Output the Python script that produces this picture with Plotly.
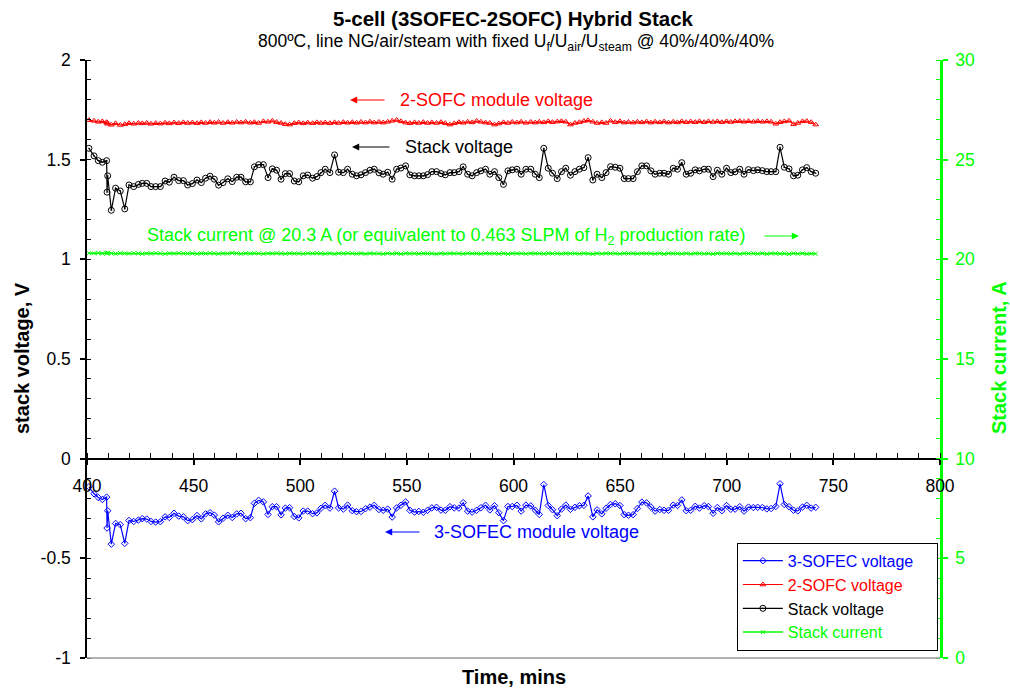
import plotly.graph_objects as go

# ---------------- data ----------------
time_min = [
    400.9, 403.3, 405.3, 407.2, 409.2, 409.4, 409.7, 411.4, 413.4, 415.6,
    417.7, 419.7, 421.9, 424.1, 425.9, 428.0, 430.0, 432.2, 434.4, 436.6,
    438.6, 440.8, 443.0, 445.2, 447.2, 449.4, 451.6, 453.6, 455.6, 457.7,
    459.7, 461.7, 463.8, 466.0, 468.1, 470.2, 472.2, 474.4, 476.6, 478.5,
    480.5, 482.7, 484.9, 486.9, 488.9, 491.0, 493.0, 495.0, 497.2, 499.3,
    501.4, 503.5, 505.8, 507.8, 509.7, 511.7, 513.9, 516.1, 518.0, 520.2,
    522.2, 524.4, 526.4, 528.5, 530.6, 532.7, 534.7, 536.9, 538.9, 541.0,
    543.1, 545.2, 547.2, 549.4, 551.4, 553.6, 555.6, 557.7, 559.7, 561.7,
    563.9, 566.0, 568.0, 570.2, 572.2, 574.4, 576.4, 578.5, 580.6, 582.7,
    584.7, 586.9, 588.9, 591.1, 593.1, 595.3, 597.4, 599.4, 601.6, 603.6,
    605.8, 608.1, 610.2, 612.1, 614.2, 616.3, 618.3, 620.5, 622.5, 624.5,
    626.7, 628.8, 630.9, 633.0, 635.0, 637.2, 639.2, 641.4, 643.4, 645.5,
    647.7, 649.9, 651.9, 653.9, 656.1, 658.1, 660.2, 662.4, 664.4, 666.4,
    668.6, 670.6, 672.7, 674.9, 676.9, 678.9, 681.0, 683.1, 685.2, 687.2,
    689.4, 691.4, 693.6, 695.6, 697.7, 699.9, 701.9, 703.9, 706.1, 708.1,
    710.2, 712.5, 714.5, 716.7, 718.8, 720.8, 723.0, 725.0, 727.0, 729.2,
    731.3, 733.3, 735.5, 737.5, 739.6, 741.7,
]

stack_voltage = [
    1.557, 1.519, 1.495, 1.487, 1.495, 1.337, 1.419, 1.246, 1.357, 1.343,
    1.253, 1.373, 1.365, 1.376, 1.381, 1.381, 1.365, 1.365, 1.365, 1.393,
    1.387, 1.412, 1.395, 1.395, 1.373, 1.380, 1.398, 1.385, 1.407, 1.417,
    1.402, 1.372, 1.385, 1.404, 1.390, 1.412, 1.412, 1.389, 1.389, 1.464,
    1.475, 1.475, 1.410, 1.454, 1.447, 1.402, 1.430, 1.430, 1.393, 1.389,
    1.419, 1.423, 1.407, 1.415, 1.435, 1.452, 1.435, 1.524, 1.437, 1.435,
    1.452, 1.427, 1.419, 1.424, 1.435, 1.447, 1.452, 1.434, 1.427, 1.437,
    1.402, 1.452, 1.458, 1.469, 1.424, 1.419, 1.419, 1.419, 1.425, 1.440,
    1.440, 1.430, 1.424, 1.435, 1.435, 1.440, 1.464, 1.427, 1.419, 1.435,
    1.444, 1.452, 1.427, 1.440, 1.410, 1.376, 1.444, 1.449, 1.452, 1.427,
    1.452, 1.452, 1.427, 1.410, 1.557, 1.457, 1.432, 1.405, 1.440, 1.457,
    1.422, 1.440, 1.452, 1.460, 1.510, 1.398, 1.427, 1.410, 1.435, 1.465,
    1.462, 1.457, 1.405, 1.405, 1.405, 1.440, 1.469, 1.469, 1.444, 1.427,
    1.432, 1.432, 1.427, 1.457, 1.452, 1.485, 1.427, 1.432, 1.449, 1.444,
    1.452, 1.452, 1.415, 1.447, 1.427, 1.457, 1.435, 1.439, 1.452, 1.427,
    1.450, 1.445, 1.449, 1.445, 1.440, 1.440, 1.440, 1.562, 1.462, 1.454,
    1.419, 1.422, 1.449, 1.460, 1.440, 1.432,
]

sofc_voltage = [
    1.698, 1.695, 1.690, 1.692, 1.688, 1.685, 1.680, 1.675, 1.682, 1.674,
    1.678, 1.683, 1.680, 1.684, 1.682, 1.684, 1.680, 1.683, 1.681, 1.685,
    1.682, 1.686, 1.683, 1.687, 1.684, 1.686, 1.683, 1.687, 1.684, 1.688,
    1.685, 1.689, 1.684, 1.688, 1.685, 1.689, 1.686, 1.690, 1.685, 1.688,
    1.684, 1.692, 1.690, 1.695, 1.688, 1.684, 1.678, 1.676, 1.683, 1.686,
    1.682, 1.686, 1.683, 1.687, 1.684, 1.686, 1.683, 1.687, 1.684, 1.688,
    1.685, 1.688, 1.685, 1.689, 1.686, 1.690, 1.686, 1.689, 1.686, 1.690,
    1.695, 1.699, 1.692, 1.686, 1.683, 1.687, 1.684, 1.688, 1.684, 1.687,
    1.684, 1.688, 1.683, 1.676, 1.682, 1.688, 1.685, 1.690, 1.687, 1.694,
    1.690, 1.686, 1.684, 1.676, 1.681, 1.687, 1.684, 1.689, 1.686, 1.690,
    1.685, 1.689, 1.686, 1.690, 1.687, 1.692, 1.688, 1.691, 1.693, 1.690,
    1.676, 1.684, 1.688, 1.694, 1.697, 1.690, 1.684, 1.687, 1.684, 1.695,
    1.688, 1.692, 1.686, 1.689, 1.686, 1.690, 1.687, 1.691, 1.686, 1.690,
    1.687, 1.691, 1.686, 1.690, 1.687, 1.692, 1.688, 1.691, 1.688, 1.692,
    1.688, 1.692, 1.689, 1.692, 1.688, 1.692, 1.689, 1.692, 1.693, 1.690,
    1.693, 1.690, 1.693, 1.690, 1.692, 1.690, 1.680, 1.688, 1.692, 1.695,
    1.678, 1.684, 1.692, 1.694, 1.688, 1.676,
]

sofec_voltage = [
    -0.141, -0.176, -0.195, -0.205, -0.193, -0.348, -0.261, -0.429, -0.325, -0.331,
    -0.425, -0.310, -0.315, -0.308, -0.301, -0.303, -0.315, -0.318, -0.316, -0.292,
    -0.295, -0.274, -0.288, -0.292, -0.311, -0.306, -0.285, -0.302, -0.277, -0.271,
    -0.283, -0.317, -0.299, -0.284, -0.295, -0.277, -0.274, -0.301, -0.296, -0.224,
    -0.209, -0.217, -0.280, -0.241, -0.241, -0.282, -0.248, -0.246, -0.290, -0.297,
    -0.263, -0.263, -0.276, -0.272, -0.249, -0.234, -0.248, -0.163, -0.247, -0.253,
    -0.233, -0.261, -0.266, -0.265, -0.251, -0.243, -0.234, -0.255, -0.259, -0.253,
    -0.293, -0.247, -0.234, -0.217, -0.259, -0.268, -0.265, -0.269, -0.259, -0.247,
    -0.244, -0.258, -0.259, -0.241, -0.247, -0.248, -0.221, -0.263, -0.268, -0.259,
    -0.246, -0.234, -0.257, -0.236, -0.271, -0.311, -0.240, -0.240, -0.234, -0.263,
    -0.233, -0.237, -0.259, -0.280, -0.130, -0.235, -0.256, -0.286, -0.253, -0.233,
    -0.254, -0.244, -0.236, -0.234, -0.187, -0.292, -0.257, -0.277, -0.249, -0.230,
    -0.226, -0.235, -0.281, -0.284, -0.281, -0.250, -0.218, -0.222, -0.242, -0.263,
    -0.255, -0.259, -0.259, -0.233, -0.235, -0.207, -0.261, -0.259, -0.239, -0.248,
    -0.236, -0.240, -0.274, -0.245, -0.261, -0.235, -0.254, -0.253, -0.241, -0.263,
    -0.243, -0.245, -0.244, -0.245, -0.252, -0.250, -0.240, -0.126, -0.230, -0.241,
    -0.259, -0.262, -0.243, -0.234, -0.248, -0.244,
]

stack_current = [
    20.31, 20.30, 20.32, 20.29, 20.31, 20.30, 20.33, 20.30, 20.28, 20.31,
    20.30, 20.29, 20.31, 20.30, 20.28, 20.30, 20.29, 20.31, 20.30, 20.28,
    20.30, 20.29, 20.31, 20.30, 20.29, 20.30, 20.28, 20.30, 20.29, 20.31,
    20.30, 20.28, 20.30, 20.29, 20.32, 20.30, 20.28, 20.30, 20.29, 20.31,
    20.30, 20.28, 20.30, 20.29, 20.31, 20.30, 20.28, 20.30, 20.29, 20.30,
    20.28, 20.30, 20.29, 20.31, 20.30, 20.28, 20.30, 20.27, 20.30, 20.29,
    20.31, 20.30, 20.28, 20.30, 20.27, 20.30, 20.29, 20.30, 20.27, 20.30,
    20.28, 20.30, 20.27, 20.30, 20.29, 20.30, 20.28, 20.30, 20.29, 20.30,
    20.27, 20.30, 20.28, 20.30, 20.29, 20.30, 20.28, 20.30, 20.29, 20.30,
    20.28, 20.30, 20.29, 20.30, 20.28, 20.30, 20.27, 20.30, 20.29, 20.30,
    20.28, 20.30, 20.29, 20.30, 20.28, 20.30, 20.29, 20.30, 20.28, 20.30,
    20.29, 20.30, 20.28, 20.30, 20.29, 20.27, 20.30, 20.28, 20.30, 20.29,
    20.30, 20.28, 20.30, 20.29, 20.30, 20.28, 20.30, 20.29, 20.30, 20.28,
    20.30, 20.27, 20.30, 20.29, 20.30, 20.28, 20.30, 20.27, 20.30, 20.29,
    20.28, 20.30, 20.27, 20.30, 20.29, 20.30, 20.28, 20.30, 20.27, 20.30,
    20.29, 20.30, 20.28, 20.30, 20.27, 20.30, 20.29, 20.28, 20.30, 20.27,
    20.30, 20.28, 20.30, 20.27, 20.29, 20.28,
]

series_names = ["3-SOFEC voltage", "2-SOFC voltage", "Stack voltage", "Stack current"]
x_ticks = [400, 450, 500, 550, 600, 650, 700, 750, 800]
y_ticks = [-1, -0.5, 0, 0.5, 1, 1.5, 2]
y2_ticks = [0, 5, 10, 15, 20, 25, 30]

# ---------------- styles ----------------
FONT = "Liberation Sans, Arial, sans-serif"
BLUE = "#0000FF"
RED = "#FF0000"
BLACK = "#000000"
GREEN = "#00FF00"
TICK_FS = 17.5
PAD = "\u00a0" * 4  # right padding inside the legend box


def legend_name(name, color):
    return f"<span style='color:{color}'>{name}</span>{PAD}"


fig = go.Figure()

fig.add_trace(go.Scatter(
    x=time_min, y=sofec_voltage, mode="lines+markers",
    name=legend_name(series_names[0], BLUE),
    line=dict(color=BLUE, width=1.2),
    marker=dict(symbol="diamond-open", size=5, color=BLUE, line=dict(width=1, color=BLUE)),
    legendgroup="g1",
))
fig.add_trace(go.Scatter(
    x=time_min, y=sofc_voltage, mode="lines+markers",
    name=legend_name(series_names[1], RED),
    line=dict(color=RED, width=1.2),
    marker=dict(symbol="triangle-up-open", size=5, color=RED, line=dict(width=1, color=RED)),
    legendgroup="g2",
))
fig.add_trace(go.Scatter(
    x=time_min, y=stack_voltage, mode="lines+markers",
    name=legend_name(series_names[2], BLACK),
    line=dict(color=BLACK, width=1.2),
    marker=dict(symbol="circle-open-dot", size=6, color=BLACK, line=dict(width=1, color=BLACK)),
    legendgroup="g3",
))
fig.add_trace(go.Scatter(
    x=time_min, y=stack_current, mode="lines+markers", yaxis="y2",
    name=legend_name(series_names[3], GREEN),
    line=dict(color=GREEN, width=1.5),
    marker=dict(symbol="x-thin", size=4, color=GREEN, line=dict(width=1, color=GREEN)),
    legendgroup="g4",
))

# plot-area geometry in pixels: left 87, right 940, top 60, bottom 658
L, R, T, B = 87, 940, 60, 658
W, H = 1010, 688

fig.update_layout(
    width=W, height=H,
    margin=dict(l=L, r=W - R, t=T, b=H - B, pad=0),
    paper_bgcolor="white", plot_bgcolor="white",
    font=dict(family=FONT, size=16, color="black"),
    showlegend=True,
    legend=dict(
        x=0.9975, xanchor="right", y=0.012, yanchor="bottom",
        bordercolor="black", borderwidth=1, bgcolor="white",
        font=dict(size=16, family=FONT),
        tracegroupgap=0, itemwidth=40,
    ),
    xaxis=dict(
        range=[400, 800], tickvals=x_ticks, ticktext=[str(v) for v in x_ticks],
        anchor="free", position=1/3,
        showline=True, linecolor="black", linewidth=2,
        ticks="outside", ticklen=5, tickwidth=1.5, tickcolor="black",
        minor=dict(dtick=10, ticks="inside", ticklen=5, tickwidth=1, tickcolor="black"),
        showgrid=False, zeroline=False,
        tickfont=dict(size=TICK_FS, family=FONT),
        ticklabelstandoff=6,
    ),
    yaxis=dict(
        range=[-1, 2], tickvals=y_ticks, ticktext=[f"{v:g}" for v in y_ticks],
        showline=True, linecolor="black", linewidth=1.5,
        ticks="outside", ticklen=5, tickwidth=1.5, tickcolor="black",
        minor=dict(dtick=0.1, ticks="inside", ticklen=4, tickwidth=1, tickcolor="black"),
        showgrid=False, zeroline=False,
        tickfont=dict(size=TICK_FS, family=FONT),
        ticklabelstandoff=6,
    ),
    yaxis2=dict(
        range=[0, 30], tickvals=y2_ticks, ticktext=[str(v) for v in y2_ticks],
        overlaying="y", side="right", anchor="x",
        showline=True, linecolor=GREEN, linewidth=2.5,
        ticks="outside", ticklen=5, tickwidth=1.5, tickcolor=GREEN,
        minor=dict(dtick=1, ticks="inside", ticklen=4, tickwidth=1, tickcolor=GREEN),
        showgrid=False, zeroline=False,
        tickfont=dict(size=TICK_FS, family=FONT, color=GREEN),
        ticklabelstandoff=4,
    ),
)

# bottom border of plot area (grey)
fig.add_shape(type="line", xref="paper", yref="paper", x0=0, x1=1, y0=0, y1=0,
              line=dict(color="#9a9a9a", width=1.5))


def px_x(px):
    return (px - L) / (R - L)


def px_y(py):
    return (B - py) / (B - T)


def label(text, x, y, size=18, color=BLACK, xanchor="center", angle=0):
    return dict(text=text, x=px_x(x), y=px_y(y), xref="paper", yref="paper",
                xanchor=xanchor, yanchor="middle", showarrow=False, textangle=angle,
                font=dict(size=size, color=color, family=FONT))


ann = [
    label("<b>5-cell (3SOFEC-2SOFC) Hybrid Stack</b>", 513, 18, size=20.5),
    label("800ºC, line NG/air/steam with fixed U<sub>f</sub>/U<sub>air</sub>/U<sub>steam</sub> @ 40%/40%/40%",
          516, 42, size=17.5),
    label("<b>stack voltage, V</b>", 22, 358, size=20, angle=-90),
    label("<b>Stack current, A</b>", 999, 358, size=20, color=GREEN, angle=-90),
    label("<b>Time, mins</b>", 514, 677, size=20),
    label("2-SOFC module voltage", 398, 100, color=RED, xanchor="left"),
    label("Stack voltage", 403, 147, color=BLACK, xanchor="left"),
    label("Stack current @ 20.3 A (or equivalent to 0.463 SLPM of H<sub>2</sub> production rate)",
          145, 236, color=GREEN, xanchor="left"),
    label("3-SOFEC module voltage", 432, 532, color=BLUE, xanchor="left"),
]

# arrows (tip, tail) in pixel space
arrows = [
    ((350, 100), (386, 100), RED),
    ((352, 147), (391, 147), BLACK),
    ((799, 236), (763, 236), GREEN),
    ((385, 532), (421, 532), BLUE),
]
for (tx, ty), (sx, sy), col in arrows:
    ann.append(dict(text="", x=px_x(tx), y=px_y(ty), ax=sx - tx, ay=sy - ty,
                    xref="paper", yref="paper",
                    showarrow=True, arrowhead=2, arrowsize=1.2, arrowwidth=1.2, arrowcolor=col))

fig.update_layout(annotations=ann)

fig.write_html("out.html", config={"displayModeBar": False},
               post_script="document.body.style.margin='0';")
